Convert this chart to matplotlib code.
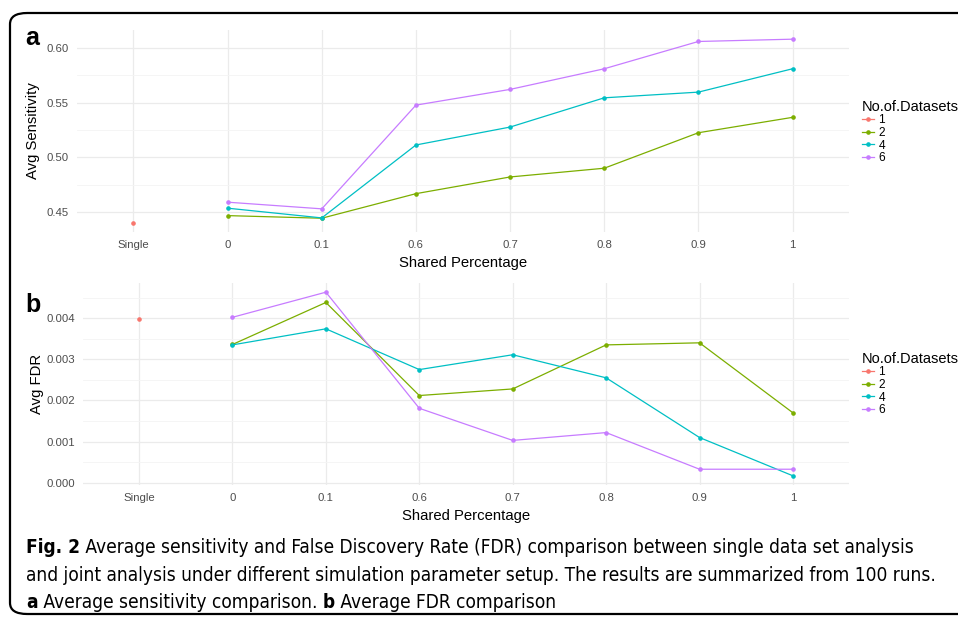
import matplotlib
matplotlib.use("Agg")
import matplotlib.pyplot as plt
from matplotlib.lines import Line2D
from matplotlib.patches import FancyBboxPatch
from matplotlib.ticker import MultipleLocator, FormatStrFormatter

plt.rcParams['font.family'] = ['Liberation Sans', 'DejaVu Sans']

# data
categories = ["Single", "0", "0.1", "0.6", "0.7", "0.8", "0.9", "1"]
groups = ["1", "2", "4", "6"]
colors = {"1": "#F8766D", "2": "#7CAE00", "4": "#00BFC4", "6": "#C77CFF"}

sens_single = [0.440]
sens_2 = [0.4466, 0.4442, 0.4667, 0.4820, 0.4900, 0.5225, 0.5366]
sens_4 = [0.4534, 0.4445, 0.5113, 0.5277, 0.5545, 0.5597, 0.5811]
sens_6 = [0.4589, 0.4528, 0.5478, 0.5622, 0.5811, 0.6061, 0.6082]

fdr_single = [0.00398]
fdr_2 = [0.00336, 0.00438, 0.00212, 0.00228, 0.00335, 0.00340, 0.00170]
fdr_4 = [0.00335, 0.00374, 0.00275, 0.00311, 0.00255, 0.00110, 0.00017]
fdr_6 = [0.00402, 0.00463, 0.00181, 0.00103, 0.00122, 0.00033, 0.00033]

W, H = 958, 618
fig = plt.figure(figsize=(W / 100, H / 100), dpi=100)

# rounded frame round the figure
frame = FancyBboxPatch((10 / W, 1 - 614 / H), 990 / W, 601 / H,
                       boxstyle="round,pad=0,rounding_size=0.018",
                       transform=fig.transFigure, fill=False,
                       edgecolor="black", linewidth=1.6, clip_on=False)
fig.patches.append(frame)


def fig_rect(x0, y0, x1, y1):
    return [x0 / W, 1 - y1 / H, (x1 - x0) / W, (y1 - y0) / H]


def draw_panel(ax, single, s2, s4, s6, ylabel, major, minor, fmt, label_x):
    x_all = list(range(len(categories)))
    x_joint = x_all[1:]
    ax.plot([0], single, color=colors["1"], marker="o", markersize=2.3, lw=0.9)
    for key, vals in (("2", s2), ("4", s4), ("6", s6)):
        ax.plot(x_joint, vals, color=colors[key], marker="o", markersize=2.3, lw=0.9)
    ax.set_xlim(-0.6, len(categories) - 0.4)
    ax.margins(y=0.05)
    ax.set_xticks(x_all)
    ax.set_xticklabels(categories)
    ax.yaxis.set_major_locator(MultipleLocator(major))
    ax.yaxis.set_minor_locator(MultipleLocator(minor))
    ax.yaxis.set_major_formatter(FormatStrFormatter(fmt))
    ax.grid(True, which="major", color="#EBEBEB", lw=0.9)
    ax.grid(True, which="minor", axis="y", color="#F4F4F4", lw=0.6)
    ax.set_axisbelow(True)
    for s in ax.spines.values():
        s.set_visible(False)
    ax.tick_params(which="both", length=0, labelsize=8.2, labelcolor="#4D4D4D", pad=6)
    ax.set_xlabel("Shared Percentage", fontsize=10.7, labelpad=4)
    ax.set_ylabel(ylabel, fontsize=10.7)
    # put the y title where the reference has it (pixel x of its right edge)
    x0 = ax.get_position().x0 * W
    ax.yaxis.set_label_coords((label_x - x0) / (ax.get_position().width * W), 0.5)

    handles = [Line2D([], [], color=colors[g], marker="o", markersize=2.3, lw=0.9) for g in groups]
    return handles


ax_a = fig.add_axes(fig_rect(77, 30, 849, 232))
h = draw_panel(ax_a, sens_single, sens_2, sens_4, sens_6, "Avg Sensitivity", 0.05, 0.025, "%.2f", 40)
ax_b = fig.add_axes(fig_rect(83, 283, 849, 485))
draw_panel(ax_b, fdr_single, fdr_2, fdr_4, fdr_6, "Avg FDR", 0.001, 0.0005, "%.3f", 44)

for ax, top in ((ax_a, 95), (ax_b, 347)):
    leg = fig.legend(h, groups, title="No.of.Datasets", loc="upper left",
                     bbox_to_anchor=(857 / W, 1 - top / H), frameon=False,
                     fontsize=8.6, title_fontsize=10.5, handlelength=1.0,
                     handletextpad=0.4, labelspacing=0.05, borderaxespad=0,
                     alignment="left")

fig.text(25 / W, 1 - 38 / H, "a", fontsize=18, fontweight="bold", ha="left", va="center")
fig.text(25 / W, 1 - 305 / H, "b", fontsize=18, fontweight="bold", ha="left", va="center")

# caption, drawn in pieces so bold parts line up
cap_kw = dict(family="DejaVu Sans", stretch="condensed")
caption = [
    (553, [("Fig. 2", True), (" Average sensitivity and False Discovery Rate (FDR) comparison between single data set analysis", False)]),
    (581, [("and joint analysis under different simulation parameter setup. The results are summarized from 100 runs.", False)]),
    (608, [("a", True), (" Average sensitivity comparison. ", False), ("b", True), (" Average FDR comparison", False)]),
]
renderer = fig.canvas.get_renderer()


def line_width(parts, size):
    total = 0
    for txt, bold in parts:
        t = fig.text(0, 0, txt, fontsize=size, fontweight="bold" if bold else "normal", **cap_kw)
        total += t.get_window_extent(renderer).width
        t.remove()
    return total


# fit the first line to the width it has in the reference (x 26 to 918)
cap_size = 14.0 * 892 / line_width(caption[0][1], 14.0)

for base, parts in caption:
    x = 26
    for txt, bold in parts:
        t = fig.text(x / W, 1 - base / H, txt, fontsize=cap_size,
                     fontweight="bold" if bold else "normal", ha="left", va="baseline", **cap_kw)
        x += t.get_window_extent(renderer).width

fig.savefig("out.png", dpi=100)
